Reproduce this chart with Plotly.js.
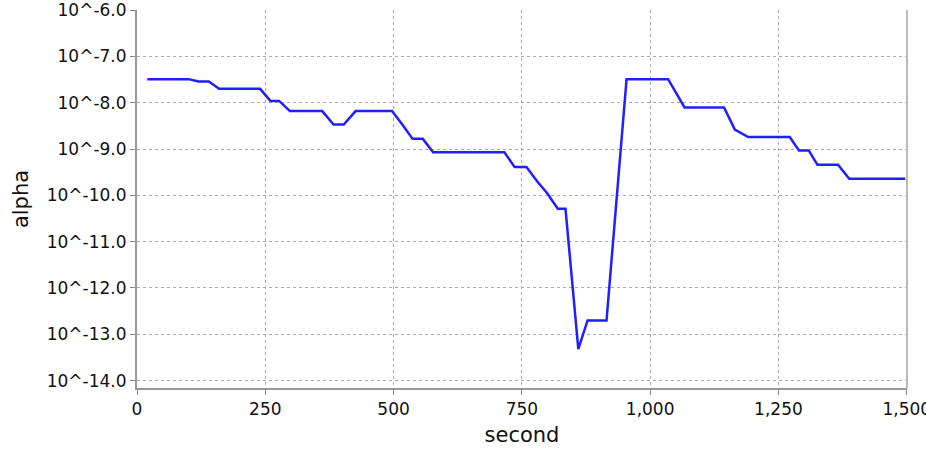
<!DOCTYPE html>
<html>
<head>
<meta charset="utf-8">
<script src="https://cdn.plot.ly/plotly-3.0.1.min.js"></script>
<style>
html,body{margin:0;padding:0;background:#fff;}
#chart{width:926px;height:454px;}
</style>
</head>
<body>
<div id="chart"></div>
<script>
// time in seconds
const seconds = [20,40,60,80,100,120,140,160,180,200,220,240,260,277,298,320,340,361,383,403,426,450,475,497,517,537,557,577,600,620,640,660,680,700,716,736,759,780,799,820,835,860,878,897,915,954,975,995,1015,1035,1067,1085,1105,1125,1144,1165,1191,1210,1230,1250,1272,1290,1309,1326,1346,1366,1388,1410,1430,1450,1470,1497];
// log10(alpha)
const alphaExp = [-7.49,-7.49,-7.49,-7.49,-7.49,-7.54,-7.54,-7.70,-7.70,-7.70,-7.70,-7.70,-7.96,-7.96,-8.18,-8.18,-8.18,-8.18,-8.47,-8.47,-8.18,-8.18,-8.18,-8.18,-8.47,-8.78,-8.78,-9.07,-9.07,-9.07,-9.07,-9.07,-9.07,-9.07,-9.07,-9.39,-9.39,-9.70,-9.95,-10.29,-10.29,-13.32,-12.70,-12.70,-12.70,-7.49,-7.49,-7.49,-7.49,-7.49,-8.10,-8.10,-8.10,-8.10,-8.10,-8.58,-8.74,-8.74,-8.74,-8.74,-8.74,-9.03,-9.03,-9.34,-9.34,-9.34,-9.64,-9.64,-9.64,-9.64,-9.64,-9.64];
const yTickExp = [-6,-7,-8,-9,-10,-11,-12,-13,-14];
const yTickText = ['10^-6.0','10^-7.0','10^-8.0','10^-9.0','10^-10.0','10^-11.0','10^-12.0','10^-13.0','10^-14.0'];
const xTickVals = [0,250,500,750,1000,1250,1500];
const xTickText = ['0','250','500','750','1,000','1,250','1,500'];

const alpha = alphaExp.map(e => Math.pow(10, e));

const font = {family:'DejaVu Sans, sans-serif', size:17, color:'#111'};

Plotly.newPlot('chart', [{
  x: seconds, y: alpha, type:'scatter', mode:'lines',
  line:{color:'#1f1fff', width:2.5}, hoverinfo:'skip'
}], {
  width:926, height:454,
  margin:{l:137, r:19, t:10, b:66},
  paper_bgcolor:'#fff', plot_bgcolor:'#fff',
  showlegend:false,
  font: font,
  xaxis:{
    range:[0,1500.5], tickvals:xTickVals, ticktext:xTickText,
    ticks:'outside', ticklen:5, tickcolor:'#888', tickwidth:1,
    showline:true, linecolor:'#999', linewidth:2,
    showgrid:true, gridcolor:'#aaa', griddash:'3px,3px', gridwidth:1,
    zeroline:false, tickfont:font, automargin:false, ticklabeloverflow:'allow',
    title:{text:'second', font:{family:'DejaVu Sans, sans-serif', size:21, color:'#111'}, standoff:9}
  },
  yaxis:{
    type:'log', range:[-14.16,-5.997],
    tickvals: yTickExp.map(e => Math.pow(10,e)), ticktext: yTickText,
    ticks:'outside', ticklen:5, tickcolor:'#888', tickwidth:1,
    showline:true, linecolor:'#999', linewidth:2,
    showgrid:true, gridcolor:'#aaa', griddash:'3px,3px', gridwidth:1,
    zeroline:false, tickfont:font, automargin:false, ticklabeloverflow:'allow',
    title:{text:'alpha', font:{family:'DejaVu Sans, sans-serif', size:21, color:'#111'}, standoff:12}
  },
  shapes:[{type:'line', xref:'paper', yref:'paper', x0:1, x1:1, y0:0, y1:1, line:{color:'#bbb', width:2}}]
}, {staticPlot:true});
</script>
</body>
</html>
